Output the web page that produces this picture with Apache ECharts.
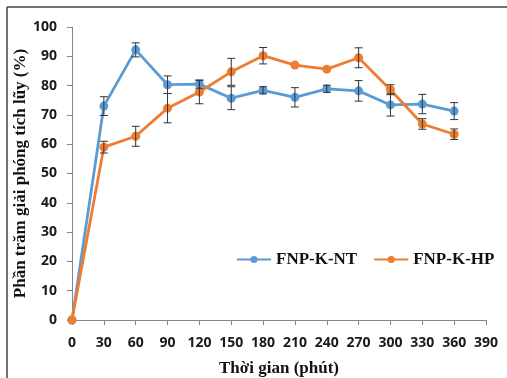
<!DOCTYPE html>
<html><head><meta charset="utf-8">
<script src="https://cdn.jsdelivr.net/npm/echarts@6/dist/echarts.min.js"></script>
<style>html,body{margin:0;padding:0;background:#fff}#c{width:507px;height:378px}</style>
</head><body><div id="c"></div>
<script>
const times = [0, 30, 60, 90, 120, 150, 180, 210, 240, 270, 300, 330, 360];
const ntValues = [0, 73.0, 92.2, 80.3, 80.5, 75.7, 78.4, 76.0, 78.9, 78.2, 73.4, 73.7, 71.3];
const ntErrors = [0, 3.2, 2.4, 3.0, 1.4, 3.9, 1.2, 3.3, 1.2, 3.5, 3.8, 3.3, 2.9];
const hpValues = [0, 59.0, 62.7, 72.3, 77.8, 84.7, 90.2, 87.0, 85.6, 89.5, 78.6, 66.9, 63.4];
const hpErrors = [0, 2.0, 3.4, 5.0, 4.0, 4.6, 2.8, 0, 0, 3.4, 1.7, 1.8, 1.8];
const seriesNames = ['FNP-K-NT', 'FNP-K-HP'];
const xTitle = 'Thời gian (phút)';
const yTitle = 'Phần trăm giải phóng tích lũy (%)';

const blue = '#5B9BD5', orange = '#ED7D31';
function pairs(vals){ return times.map((t,i)=>[t, vals[i]]); }
function errData(vals, errs){ return times.map((t,i)=>[t, vals[i]-errs[i], vals[i]+errs[i]]).filter((d,i)=>errs[i]>0); }
function renderErr(params, api){
  const x = api.value(0), lo = api.value(1), hi = api.value(2);
  const p1 = api.coord([x, hi]), p2 = api.coord([x, lo]);
  const w = 4;
  const st = {stroke:'#333', lineWidth:1};
  return {type:'group', children:[
    {type:'line', shape:{x1:p1[0],y1:p1[1],x2:p2[0],y2:p2[1]}, style:st},
    {type:'line', shape:{x1:p1[0]-w,y1:p1[1],x2:p1[0]+w,y2:p1[1]}, style:st},
    {type:'line', shape:{x1:p2[0]-w,y1:p2[1],x2:p2[0]+w,y2:p2[1]}, style:st}
  ]};
}
const chart = echarts.init(document.getElementById('c'));
const labelFont = {fontFamily:'Open Sans', fontWeight:'bold', fontSize:14, color:'#1a1a1a'};
const serifFont = {fontFamily:'Liberation Serif', fontWeight:'bold', fontSize:17, color:'#111'};
chart.setOption({
  animation:false,
  backgroundColor:'#fff',
  graphic:[
    {type:'line', shape:{x1:7,y1:7,x2:507,y2:7}, style:{stroke:'#444', lineWidth:1.5}},
    {type:'line', shape:{x1:7,y1:7,x2:7,y2:378}, style:{stroke:'#444', lineWidth:1.5}}
  ],
  grid:{left:72, right:21, top:27, bottom:58, containLabel:false, outerBoundsMode:'none'},
  legend:{
    left:231, top:246, itemWidth:34, itemHeight:9, itemGap:16,
    textStyle:serifFont,
    data:seriesNames
  },
  xAxis:{
    type:'value', min:0, max:390, interval:30,
    name:xTitle, nameLocation:'middle', nameGap:40, nameMoveOverlap:false,
    nameTextStyle:serifFont,
    axisLine:{lineStyle:{color:'#868686', width:1}},
    axisTick:{show:true, length:5, lineStyle:{color:'#868686'}},
    axisLabel:Object.assign({margin:16}, labelFont),
    splitLine:{show:false}
  },
  yAxis:{
    type:'value', min:0, max:100, interval:10,
    name:yTitle, nameLocation:'middle', nameGap:43, nameRotate:90, nameMoveOverlap:false,
    nameTextStyle:serifFont,
    axisLine:{show:true, lineStyle:{color:'#868686', width:1}},
    axisTick:{show:true, length:5, lineStyle:{color:'#868686'}},
    axisLabel:Object.assign({margin:15}, labelFont),
    splitLine:{show:false}
  },
  series:[
    {name:seriesNames[0], type:'line', data:pairs(ntValues), symbol:'circle', symbolSize:9,
     lineStyle:{color:blue, width:2.8}, itemStyle:{color:blue}, z:2},
    {name:seriesNames[1], type:'line', data:pairs(hpValues), symbol:'circle', symbolSize:9,
     lineStyle:{color:orange, width:2.8}, itemStyle:{color:orange}, z:3},
    {type:'custom', renderItem:renderErr, data:errData(ntValues, ntErrors), encode:{x:0, y:[1,2]}, z:5, silent:true},
    {type:'custom', renderItem:renderErr, data:errData(hpValues, hpErrors), encode:{x:0, y:[1,2]}, z:5, silent:true}
  ]
});
</script></body></html>
